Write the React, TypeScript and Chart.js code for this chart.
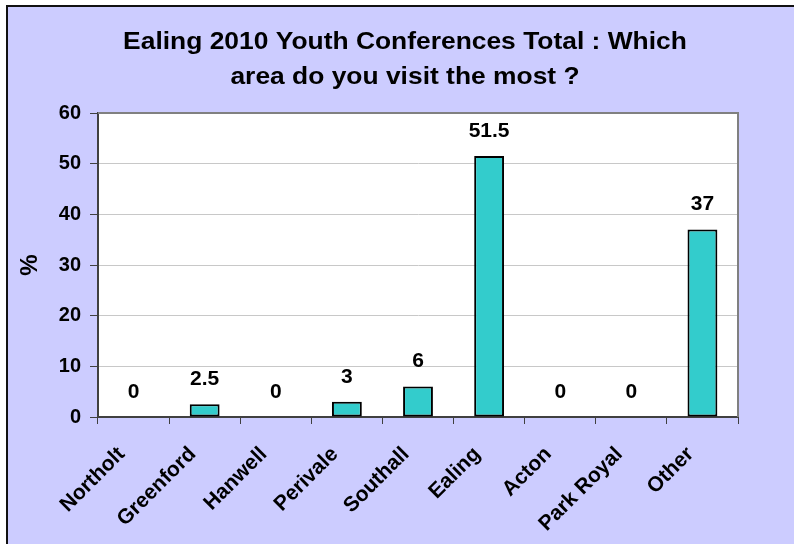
import React, { useEffect, useRef } from "react";
import { Chart, registerables } from "chart.js";

Chart.register(...registerables);

const TITLE_LINES = ["Ealing 2010 Youth Conferences Total : Which", "area do you visit the most ?"];
const CATEGORIES = ["Northolt", "Greenford", "Hanwell", "Perivale", "Southall", "Ealing", "Acton", "Park Royal", "Other"];
const VALUES = [0, 2.5, 0, 3, 6, 51.5, 0, 0, 37];
const Y_TICKS = [0, 10, 20, 30, 40, 50, 60];
const Y_TITLE = "%";

const FONT = "'Liberation Sans', Arial, sans-serif";

const plotBgPlugin = {
  id: "plotBg",
  beforeDraw(chart: any) {
    const { ctx, chartArea } = chart;
    ctx.save();
    ctx.fillStyle = "#FFFFFF";
    ctx.fillRect(chartArea.left, chartArea.top, chartArea.right - chartArea.left, chartArea.bottom - chartArea.top);
    ctx.restore();
  },
};

const plotBorderPlugin = {
  id: "plotBorder",
  afterDatasetsDraw(chart: any) {
    const { ctx, chartArea } = chart;
    ctx.save();
    ctx.strokeStyle = "#808080";
    ctx.lineWidth = 2;
    ctx.beginPath();
    ctx.moveTo(chartArea.left, chartArea.top);
    ctx.lineTo(chartArea.right, chartArea.top);
    ctx.lineTo(chartArea.right, chartArea.bottom);
    ctx.stroke();
    ctx.restore();
  },
};

const dataLabelPlugin = {
  id: "dataLabels",
  afterDatasetsDraw(chart: any) {
    const { ctx } = chart;
    const meta = chart.getDatasetMeta(0);
    ctx.save();
    ctx.fillStyle = "#000000";
    ctx.font = `bold 21px ${FONT}`;
    ctx.textAlign = "center";
    ctx.textBaseline = "middle";
    meta.data.forEach((bar: any, i: number) => {
      ctx.fillText(String(VALUES[i]), bar.x, bar.y - 25);
    });
    ctx.restore();
  },
};

const titlePlugin = {
  id: "customTitle",
  afterDraw(chart: any) {
    const { ctx } = chart;
    ctx.save();
    ctx.fillStyle = "#000000";
    ctx.font = `bold 24px ${FONT}`;
    ctx.textAlign = "center";
    ctx.textBaseline = "alphabetic";
    const baselines = [49, 84];
    TITLE_LINES.forEach((line, i) => {
      ctx.save();
      ctx.translate(405, baselines[i]);
      ctx.scale(1.1, 1);
      ctx.fillText(line, 0, 0);
      ctx.restore();
    });
    ctx.restore();
  },
};

export default function App() {
  const canvasRef = useRef<HTMLCanvasElement | null>(null);

  useEffect(() => {
    if (!canvasRef.current) return;
    const chart = new Chart(canvasRef.current, {
      type: "bar",
      data: {
        labels: CATEGORIES,
        datasets: [
          {
            data: VALUES,
            backgroundColor: "#33CCCC",
            borderColor: "#000000",
            borderWidth: 2,
            borderSkipped: false,
            barPercentage: 0.42,
            categoryPercentage: 1,
          },
        ],
      },
      options: {
        animation: false,
        responsive: false,
        maintainAspectRatio: false,
        layout: { padding: { top: 113, left: 12, right: 56, bottom: 0 } },
        plugins: {
          legend: { display: false },
          title: { display: false },
          tooltip: { enabled: false },
        },
        scales: {
          x: {
            afterFit: (scale: any) => {
              scale.height = 127;
            },
            grid: {
              offset: true,
              drawOnChartArea: false,
              tickLength: 7,
              color: "#404040",
              tickColor: "#404040",
              lineWidth: 1,
            },
            border: { color: "#404040", width: 2 },
            ticks: {
              maxRotation: 45,
              minRotation: 45,
              autoSkip: false,
              padding: 18,
              labelOffset: -12,
              color: "#000000",
              font: { family: FONT, size: 21, weight: "bold" },
            },
          },
          y: {
            min: 0,
            max: 60,
            afterBuildTicks: (scale: any) => {
              scale.ticks = Y_TICKS.map((v) => ({ value: v }));
            },
            afterFit: (scale: any) => {
              scale.width = 86;
            },
            grid: {
              color: "#C8C8C8",
              tickColor: "#404040",
              tickLength: 8,
              lineWidth: 1,
            },
            border: { color: "#404040", width: 2 },
            ticks: {
              padding: 9,
              color: "#000000",
              font: { family: FONT, size: 20, weight: "bold" },
            },
            title: {
              display: true,
              text: Y_TITLE,
              color: "#000000",
              font: { family: FONT, size: 24, weight: "bold" },
            },
          },
        },
      },
      plugins: [plotBgPlugin, plotBorderPlugin, dataLabelPlugin, titlePlugin],
    });
    return () => chart.destroy();
  }, []);

  return (
    <div
      style={{
        position: "fixed",
        left: 0,
        top: 0,
        width: 794,
        height: 544,
        overflow: "hidden",
        background: "#FFFFFF",
      }}
    >
      <div
        style={{
          position: "absolute",
          left: 6,
          top: 5,
          width: 840,
          height: 600,
          borderLeft: "2px solid #111111",
          borderTop: "2px solid #111111",
          background: "#CCCCFF",
        }}
      />
      <canvas
        ref={canvasRef}
        width={794}
        height={544}
        style={{ position: "absolute", left: 0, top: 0, width: 794, height: 544 }}
      />
    </div>
  );
}
